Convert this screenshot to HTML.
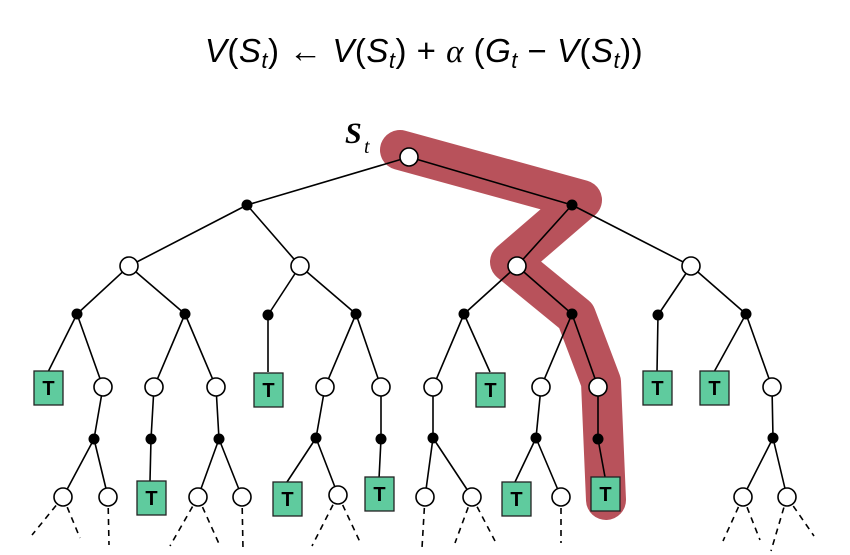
<!DOCTYPE html>
<html><head><meta charset="utf-8"><style>
html,body{margin:0;padding:0;background:#fff;width:850px;height:555px;overflow:hidden}
</style></head><body>
<svg width="850" height="555" viewBox="0 0 850 555" xmlns="http://www.w3.org/2000/svg">
<text x="424" y="62" text-anchor="middle" font-family="Liberation Sans, sans-serif" font-size="33" fill="#000" letter-spacing="0.5"><tspan font-style="italic">V</tspan>(<tspan font-style="italic">S</tspan><tspan font-size="22" font-style="italic" dy="6">t</tspan><tspan dy="-6">) ← </tspan><tspan font-style="italic">V</tspan>(<tspan font-style="italic">S</tspan><tspan font-size="22" font-style="italic" dy="6">t</tspan><tspan dy="-6">) + </tspan><tspan font-family="Liberation Serif, serif" font-style="italic">α</tspan> (<tspan font-style="italic">G</tspan><tspan font-size="22" font-style="italic" dy="6">t</tspan><tspan dy="-6"> − </tspan><tspan font-style="italic">V</tspan>(<tspan font-style="italic">S</tspan><tspan font-size="22" font-style="italic" dy="6">t</tspan><tspan dy="-6">))</tspan></text>
<text x="345" y="143" font-family="Liberation Serif, serif" font-style="italic" font-weight="bold" font-size="30">S</text>
<text x="364" y="153" font-family="Liberation Serif, serif" font-style="italic" font-size="20">t</text>
<polyline points="400,150 582,200 510,262 576,316 601,382 606,500" fill="none" stroke="#b8525b" stroke-width="40" stroke-linejoin="round" stroke-linecap="round"/>
<g stroke="#000" stroke-width="1.6" fill="none">
<path d="M409,157L247,205M409,157L572,205M247,205L129,266M247,205L300,266M572,205L517,266M572,205L691,266
M129,266L77,314M129,266L185,314M300,266L268,315M300,266L356,314M517,266L464,314M517,266L572,314M691,266L658,315M691,266L746,314
M77,314L48,372M77,314L103,387M185,314L154,387M185,314L216,387M268,315L268,372M356,314L325,387M356,314L381,387
M464,314L433,387M464,314L490,372M572,314L541,387M572,314L598,387M658,315L657,372M746,314L714,372M746,314L772,387
M103,387L94,439M154,387L151,439M216,387L219,439M325,387L316,438M381,387L381,439M433,387L433,438M541,387L536,438M598,387L598,439M772,387L773,438
M94,439L63,497M94,439L108,497M151,439L150,481M219,439L198,497M219,439L242,497M316,438L287,482M316,438L338,495M381,439L379,479
M433,438L425,497M433,438L472,497M536,438L515,482M536,438L561,497M598,439L605,477M773,438L743,497M773,438L787,497"/>
<path stroke-dasharray="6,5" d="M63,497L32,535M63,497L80,538M108,497L109,545M198,497L170,546M198,497L220,546M242,497L243,549M338,495L312,546M338,495L360,542M425,497L422,548M472,497L455,543M472,497L495,541M561,497L561,543M743,497L723,541M743,497L760,540M787,497L771,551M787,497L814,536"/>
</g>
<g fill="#fff" stroke="#000" stroke-width="1.6">
<circle cx="409" cy="157" r="9"/>
<circle cx="129" cy="266" r="9"/><circle cx="300" cy="266" r="9"/><circle cx="517" cy="266" r="9"/><circle cx="691" cy="266" r="9"/>
<circle cx="103" cy="387" r="9"/><circle cx="154" cy="387" r="9"/><circle cx="216" cy="387" r="9"/><circle cx="325" cy="387" r="9"/><circle cx="381" cy="387" r="9"/><circle cx="433" cy="387" r="9"/><circle cx="541" cy="387" r="9"/><circle cx="598" cy="387" r="9"/><circle cx="772" cy="387" r="9"/>
<circle cx="63" cy="497" r="9"/><circle cx="108" cy="497" r="9"/><circle cx="198" cy="497" r="9"/><circle cx="242" cy="497" r="9"/><circle cx="338" cy="495" r="9"/><circle cx="425" cy="497" r="9"/><circle cx="472" cy="497" r="9"/><circle cx="561" cy="497" r="9"/><circle cx="743" cy="497" r="9"/><circle cx="787" cy="497" r="9"/>
</g>
<g fill="#000">
<circle cx="247" cy="205" r="5.5"/><circle cx="572" cy="205" r="5.5"/>
<circle cx="77" cy="314" r="5.5"/><circle cx="185" cy="314" r="5.5"/><circle cx="268" cy="315" r="5.5"/><circle cx="356" cy="314" r="5.5"/><circle cx="464" cy="314" r="5.5"/><circle cx="572" cy="314" r="5.5"/><circle cx="658" cy="315" r="5.5"/><circle cx="746" cy="314" r="5.5"/>
<circle cx="94" cy="439" r="5.5"/><circle cx="151" cy="439" r="5.5"/><circle cx="219" cy="439" r="5.5"/><circle cx="316" cy="438" r="5.5"/><circle cx="381" cy="439" r="5.5"/><circle cx="433" cy="438" r="5.5"/><circle cx="536" cy="438" r="5.5"/><circle cx="598" cy="439" r="5.5"/><circle cx="773" cy="438" r="5.5"/>
</g>
<g fill="#5fcb9e" stroke="#222" stroke-width="1.3">
<rect x="34" y="371" width="29" height="34"/><rect x="254" y="373" width="29" height="34"/><rect x="476" y="373" width="29" height="34"/><rect x="643" y="371" width="29" height="34"/><rect x="700" y="371" width="29" height="34"/>
<rect x="137" y="481" width="29" height="34"/><rect x="273" y="482" width="29" height="34"/><rect x="365" y="477" width="29" height="34"/><rect x="502" y="482" width="29" height="34"/><rect x="591" y="477" width="29" height="34"/>
</g>
<g font-family="Liberation Sans, sans-serif" font-weight="bold" font-size="20" text-anchor="middle" fill="#000">
<text x="48.5" y="395">T</text><text x="268.5" y="397">T</text><text x="490.5" y="397">T</text><text x="657.5" y="395">T</text><text x="714.5" y="395">T</text>
<text x="151.5" y="505">T</text><text x="287.5" y="506">T</text><text x="379.5" y="501">T</text><text x="516.5" y="506">T</text><text x="605.5" y="501">T</text>
</g>
</svg>
</body></html>
